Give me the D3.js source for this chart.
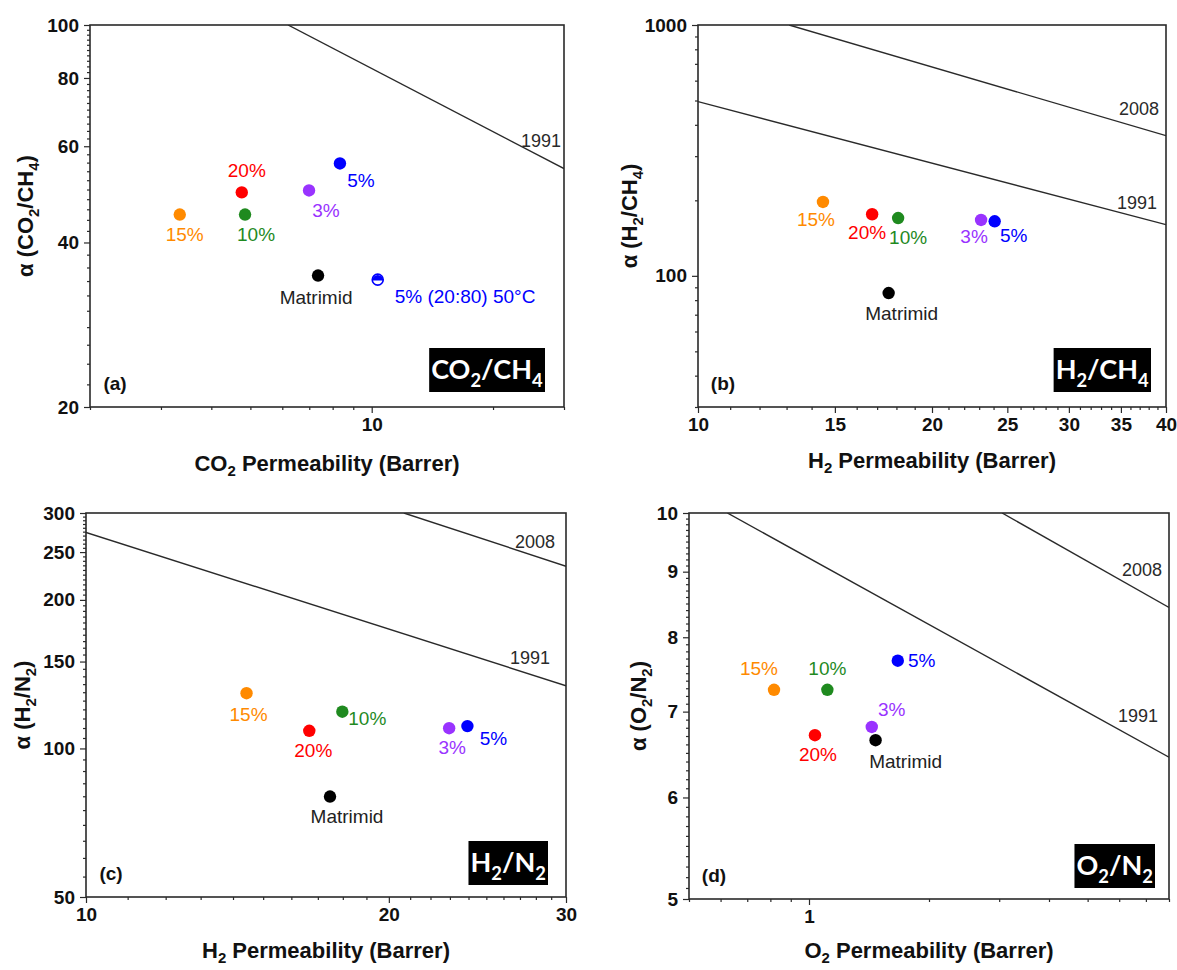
<!DOCTYPE html>
<html>
<head>
<meta charset="utf-8">
<script src="https://cdn.jsdelivr.net/npm/d3@7"></script>
<style>
  body { margin: 0; background: #fff; }
  svg text { font-family: "Liberation Sans", Arial, Helvetica, sans-serif; }
</style>
</head>
<body>
<svg id="fig" width="1177" height="970"></svg>
<script>
// ---- Membrane series (same order in every panel) ----
const loadings = ["Matrimid", "3%", "5%", "10%", "15%", "20%"];

// (a) CO2/CH4
const co2Permeability = [7.36, 6.99, 8.34, 4.85, 3.34, 4.76];
const co2ch4Selectivity = [34.8, 49.8, 55.8, 45.0, 45.0, 49.4];
const mixedGasLabel = "5% (20:80) 50°C";
const mixedGasCo2Permeability = [10.35];
const mixedGasCo2ch4Selectivity = [34.2];

// (b) H2/CH4
const h2PermeabilityCH4 = [17.59, 23.13, 24.08, 18.09, 14.48, 16.75];
const h2ch4Selectivity = [85.4, 167, 165, 170, 197, 176];

// (c) H2/N2
const h2PermeabilityN2 = [17.48, 22.96, 23.94, 17.98, 14.44, 16.67];
const h2n2Selectivity = [79.9, 109.9, 111, 118.7, 129.4, 108.6];

// (d) O2/N2
const o2Permeability = [1.469, 1.437, 1.67, 1.112, 0.817, 1.035];
const o2n2Selectivity = [6.65, 6.81, 7.67, 7.28, 7.28, 6.71];

// Robeson upper bounds, straight segments on log-log axes: [permeability, selectivity]
const co2ch4Bound1991 = [[6.2, 100], [30, 54.6]];
const h2ch4Bound1991 = [[10, 495], [40, 160]];
const h2ch4Bound2008 = [[13.1, 1000], [40, 362]];
const h2n2Bound1991 = [[10, 274], [30, 134]];
const h2n2Bound2008 = [[20.7, 300], [30, 234]];
const o2n2Bound1991 = [[0.624, 10], [8, 6.45]];
const o2n2Bound2008 = [[3.05, 10], [8, 8.44]];

// Axis tick labels
const co2XTicks = [10];
const co2ch4YTicks = [20, 40, 60, 80, 100];
const h2XTicksCH4 = [10, 15, 20, 25, 30, 35, 40];
const h2ch4YTicks = [100, 1000];
const h2XTicksN2 = [10, 20, 30];
const h2n2YTicks = [50, 100, 150, 200, 250, 300];
const o2XTicks = [1];
const o2n2YTicks = [5, 6, 7, 8, 9, 10];

// ---- Styling ----
const colors = {
  "Matrimid": "#000000",
  "3%": "#9933ff",
  "5%": "#0000ff",
  "10%": "#1f8a1f",
  "15%": "#ff8a00",
  "20%": "#ff0000"
};
const ink = "#2a2a2a";
const tickFont = 19, titleFont = 22, labelFont = 19;

function logMinor(lo, hi) {
  const out = [];
  for (let e = Math.floor(Math.log10(lo)); e <= Math.ceil(Math.log10(hi)); e++) {
    for (let m = 1; m < 10; m++) {
      const v = m * Math.pow(10, e);
      if (v >= lo - 1e-9 && v <= hi + 1e-9) out.push(v);
    }
  }
  return out;
}

const panels = [
  {
    letter: "(a)", frame: { left: 90, right: 564, top: 25, bottom: 407 },
    xDomain: [2, 30], yDomain: [20, 100],
    xTicks: co2XTicks, yTicks: co2ch4YTicks,
    xMinor: logMinor(2, 30), yMinor: d3.range(22, 100, 2),
    px: co2Permeability, py: co2ch4Selectivity,
    labelOffsets: [[-2, 22], [17, 20], [21, 17], [11, 20], [5, 20], [5, -22]],
    bounds: [{ year: "1991", pts: co2ch4Bound1991, off: [-23, -28] }],
    xTitle: [["CO"], ["2", 1], [" Permeability (Barrer)"]],
    yTitle: [["α (CO"], ["2", 1], ["/CH"], ["4", 1], [")"]],
    yTitleX: 25, xTitleY: 471,
    tag: [["CO"], ["2", 1], ["/CH"], ["4", 1]], tagRight: 545, tagBottom: 392,
    mixed: true
  },
  {
    letter: "(b)", frame: { left: 698, right: 1166, top: 25, bottom: 407 },
    xDomain: [10, 40], yDomain: [30, 1000],
    xTicks: h2XTicksCH4, yTicks: h2ch4YTicks,
    xMinor: d3.range(11, 40, 1), yMinor: logMinor(30, 1000),
    px: h2PermeabilityCH4, py: h2ch4Selectivity,
    labelOffsets: [[13, 20], [-7, 17], [19, 14], [10, 19], [-7, 18], [-5, 18]],
    bounds: [
      { year: "2008", pts: h2ch4Bound2008, off: [-27, -27] },
      { year: "1991", pts: h2ch4Bound1991, off: [-29, -22] }
    ],
    xTitle: [["H"], ["2", 1], [" Permeability (Barrer)"]],
    yTitle: [["α (H"], ["2", 1], ["/CH"], ["4", 1], [")"]],
    yTitleX: 629, xTitleY: 468,
    tag: [["H"], ["2", 1], ["/CH"], ["4", 1]], tagRight: 1151, tagBottom: 392
  },
  {
    letter: "(c)", frame: { left: 86, right: 566, top: 513, bottom: 897 },
    xDomain: [10, 30], yDomain: [50, 300],
    xTicks: h2XTicksN2, yTicks: h2n2YTicks,
    xMinor: d3.range(11, 30, 1), yMinor: d3.range(55, 300, 5),
    px: h2PermeabilityN2, py: h2n2Selectivity,
    labelOffsets: [[17, 20], [3, 19], [26, 12], [25, 7], [2, 21], [4, 20]],
    bounds: [
      { year: "2008", pts: h2n2Bound2008, off: [-31, -24] },
      { year: "1991", pts: h2n2Bound1991, off: [-36, -28] }
    ],
    xTitle: [["H"], ["2", 1], [" Permeability (Barrer)"]],
    yTitle: [["α (H"], ["2", 1], ["/N"], ["2", 1], [")"]],
    yTitleX: 22, xTitleY: 958,
    tag: [["H"], ["2", 1], ["/N"], ["2", 1]], tagRight: 548, tagBottom: 885
  },
  {
    letter: "(d)", frame: { left: 689, right: 1169, top: 513, bottom: 899 },
    xDomain: [0.5, 8], yDomain: [5, 10],
    xTicks: o2XTicks, yTicks: o2n2YTicks,
    xMinor: logMinor(0.5, 8), yMinor: d3.range(5.1, 10, 0.1),
    px: o2Permeability, py: o2n2Selectivity,
    labelOffsets: [[30, 21], [20, -17], [24, 0], [0, -21], [-15, -21], [3, 19]],
    bounds: [
      { year: "2008", pts: o2n2Bound2008, off: [-27, -37] },
      { year: "1991", pts: o2n2Bound1991, off: [-31, -41] }
    ],
    xTitle: [["O"], ["2", 1], [" Permeability (Barrer)"]],
    yTitle: [["α (O"], ["2", 1], ["/N"], ["2", 1], [")"]],
    yTitleX: 638, xTitleY: 958,
    tag: [["O"], ["2", 1], ["/N"], ["2", 1]], tagRight: 1155, tagBottom: 888
  }
];

const svg = d3.select("#fig");

// Writes text made of runs; runs flagged with 1 become subscripts.
function richText(sel, parts, size, shiftRatio = 0.3) {
  const shift = size * shiftRatio;
  parts.forEach((p, i) => {
    const t = sel.append("tspan").text(p[0]);
    if (p[1]) {
      t.attr("font-size", size * 0.68).attr("dy", shift);
    } else {
      t.attr("font-size", size);
      if (i > 0 && parts[i - 1][1]) t.attr("dy", -shift);
    }
  });
  return sel;
}

panels.forEach(p => {
  const f = p.frame;
  const g = svg.append("g");
  const x = d3.scaleLog().domain(p.xDomain).range([f.left, f.right]);
  const y = d3.scaleLog().domain(p.yDomain).range([f.bottom, f.top]);

  const clipId = "clip" + p.letter.replace(/\W/g, "");
  svg.append("clipPath").attr("id", clipId)
    .append("rect").attr("x", f.left).attr("y", f.top)
    .attr("width", f.right - f.left).attr("height", f.bottom - f.top);

  // upper-bound lines
  const line = d3.line().x(d => x(d[0])).y(d => y(d[1]));
  p.bounds.forEach(b => {
    g.append("path").attr("d", line(b.pts))
      .attr("clip-path", `url(#${clipId})`)
      .attr("fill", "none").attr("stroke", ink).attr("stroke-width", 1.4);
    const end = b.pts[b.pts.length - 1];
    g.append("text")
      .attr("x", x(end[0]) + b.off[0]).attr("y", y(end[1]) + b.off[1])
      .attr("text-anchor", "middle").attr("dominant-baseline", "central")
      .attr("font-size", 18).attr("fill", ink).text(b.year);
  });

  // axes: major ticks with labels, minor ticks without
  const fmt = d3.format("~g");
  const xa = g.append("g").attr("transform", `translate(0,${f.bottom})`)
    .call(d3.axisBottom(x).tickValues(p.xTicks).tickFormat(fmt).tickSize(6).tickPadding(5));
  const xm = g.append("g").attr("transform", `translate(0,${f.bottom})`)
    .call(d3.axisBottom(x).tickValues(p.xMinor.filter(v => !p.xTicks.includes(v))).tickFormat("").tickSize(3));
  const ya = g.append("g").attr("transform", `translate(${f.left},0)`)
    .call(d3.axisLeft(y).tickValues(p.yTicks).tickFormat(fmt).tickSize(6).tickPadding(5));
  const ym = g.append("g").attr("transform", `translate(${f.left},0)`)
    .call(d3.axisLeft(y).tickValues(p.yMinor.filter(v => !p.yTicks.some(t => Math.abs(t - v) < 1e-6))).tickFormat("").tickSize(3));
  [xa, xm, ya, ym].forEach(a => {
    a.select(".domain").remove();
    a.attr("color", ink);
    a.selectAll("line").attr("stroke-width", 1.2);
    a.selectAll("text").attr("font-size", tickFont).attr("font-weight", "bold")
      .attr("font-family", "'Liberation Sans', Arial, sans-serif").attr("fill", "#111");
  });

  // frame
  g.append("rect").attr("x", f.left).attr("y", f.top)
    .attr("width", f.right - f.left).attr("height", f.bottom - f.top)
    .attr("fill", "none").attr("stroke", ink).attr("stroke-width", 1.6);

  // axis titles
  richText(g.append("text")
    .attr("x", (f.left + f.right) / 2).attr("y", p.xTitleY)
    .attr("text-anchor", "middle").attr("font-weight", "bold").attr("fill", "#111"), p.xTitle, titleFont, 0.22);
  richText(g.append("text")
    .attr("transform", `translate(${p.yTitleX + 8},${(f.top + f.bottom) / 2}) rotate(-90)`)
    .attr("text-anchor", "middle").attr("font-weight", "bold").attr("fill", "#111"), p.yTitle, titleFont, 0.25);

  // data points and their labels
  const pts = loadings.map((name, i) => ({ name, xv: p.px[i], yv: p.py[i], off: p.labelOffsets[i] }));
  g.selectAll("circle.pt").data(pts).join("circle").attr("class", "pt")
    .attr("cx", d => x(d.xv)).attr("cy", d => y(d.yv)).attr("r", 6.2)
    .attr("fill", d => colors[d.name]);
  g.selectAll("text.pl").data(pts).join("text").attr("class", "pl")
    .attr("x", d => x(d.xv) + d.off[0]).attr("y", d => y(d.yv) + d.off[1])
    .attr("text-anchor", "middle").attr("dominant-baseline", "central")
    .attr("font-size", labelFont).attr("fill", d => d.name === "Matrimid" ? "#222" : colors[d.name])
    .text(d => d.name);

  // mixed-gas point: half-filled marker
  if (p.mixed) {
    const cx = x(mixedGasCo2Permeability[0]), cy = y(mixedGasCo2ch4Selectivity[0]), r = 5.5;
    const mg = g.append("g").attr("transform", `translate(${cx},${cy})`);
    mg.append("circle").attr("r", r).attr("fill", "#fff").attr("stroke", colors["5%"]).attr("stroke-width", 1.6);
    mg.append("path").attr("d", `M${-r},0.8 A${r},${r} 0 0 1 ${r},0.8 Z`).attr("fill", colors["5%"]);
    g.append("text").attr("x", cx + 17).attr("y", cy + 17)
      .attr("dominant-baseline", "central").attr("font-size", labelFont)
      .attr("fill", colors["5%"]).text(mixedGasLabel);
  }

  // panel letter
  g.append("text").attr("x", f.left + 25).attr("y", f.bottom - 24)
    .attr("text-anchor", "middle").attr("dominant-baseline", "central")
    .attr("font-size", 19).attr("font-weight", "bold").attr("fill", "#111").text(p.letter);

  // gas-pair tag: white text on black
  const tag = g.append("g");
  const tt = tag.append("text").attr("fill", "#fff")
    .style("font-family", "Lato, 'Open Sans', sans-serif").attr("font-weight", "bold");
  richText(tt, p.tag, 27);
  const bb = tt.node().getBBox();
  const padX = 2;
  const w = bb.width + 2 * padX, h = 44;
  const bx = p.tagRight - w, by = p.tagBottom - h;
  tt.attr("transform", `translate(${bx + padX - bb.x},${by + 31})`);
  tag.insert("rect", "text").attr("x", bx).attr("y", by).attr("width", w).attr("height", h).attr("fill", "#000");
});
</script>
</body>
</html>
